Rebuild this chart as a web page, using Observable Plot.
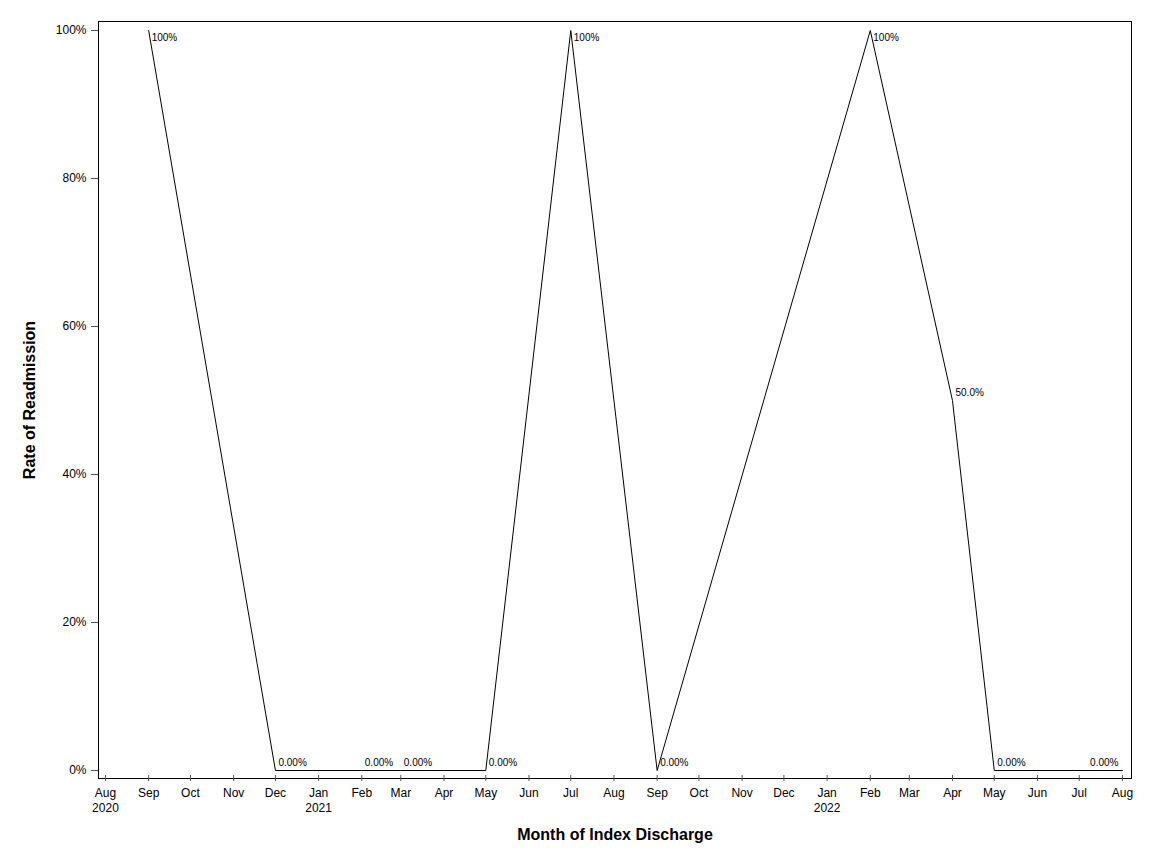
<!DOCTYPE html>
<html>
<head>
<meta charset="utf-8">
<script src="https://cdn.jsdelivr.net/npm/d3@7"></script>
<script src="https://cdn.jsdelivr.net/npm/@observablehq/plot@0.6"></script>
<style>
  html, body { margin: 0; padding: 0; background: #fff; }
  svg { display: block; }
</style>
</head>
<body>
<div id="chart"></div>
<script>
// Data
const months = ["2020-09-01","2020-12-01","2021-02-01","2021-03-01","2021-05-01","2021-07-01","2021-09-01","2022-02-01","2022-04-01","2022-05-01","2022-08-01"];
const rates  = [1.0, 0, 0, 0, 0, 1.0, 0, 1.0, 0.5, 0, 0];
const pointLabels = ["100%","0.00%","0.00%","0.00%","0.00%","100%","0.00%","100%","50.0%","0.00%","0.00%"];
const yTicks = [0, 0.2, 0.4, 0.6, 0.8, 1.0];
const xStart = "2020-08-01";
const xEnd = "2022-08-01";
const monthNames = ["Jan","Feb","Mar","Apr","May","Jun","Jul","Aug","Sep","Oct","Nov","Dec"];

const data = months.map((m, i) => ({date: new Date(m + "T00:00:00Z"), rate: rates[i], label: pointLabels[i], last: i === months.length - 1}));
const xTicks = d3.utcMonths(new Date(xStart + "T00:00:00Z"), d3.utcDay.offset(new Date(xEnd + "T00:00:00Z"), 1));
const fmtX = (d, i) => {
  const m = monthNames[d.getUTCMonth()];
  return (i === 0 || d.getUTCMonth() === 0) ? m + "\n" + d.getUTCFullYear() : m;
};

const d0 = d3.utcDay.offset(new Date(xStart + "T00:00:00Z"), -5);
const d1 = new Date(new Date(xEnd + "T00:00:00Z").getTime() + 6.5 * 864e5);

const topPts = data.filter(d => !d.last && d.rate >= 1);
const midPts = data.filter(d => !d.last && d.rate < 1);
const lastPts = data.filter(d => d.last);

const chart = Plot.plot({
  width: 1152,
  height: 864,
  marginLeft: 98,
  marginRight: 21,
  marginTop: 21,
  marginBottom: 86,
  style: {fontFamily: "'Liberation Sans', Arial, sans-serif", fontSize: "12px", color: "#000", background: "#fff"},
  x: {type: "utc", domain: [d0, d1]},
  y: {domain: [-8/740, 1 + 9/740]},
  marks: [
    Plot.frame({stroke: "#000", strokeWidth: 1}),
    Plot.axisY(yTicks, {tickSize: 7, tickPadding: 5, tickFormat: d3.format(".0%"), stroke: "#555", label: "Rate of Readmission", labelAnchor: "center", labelArrow: "none", labelOffset: 75}),
    Plot.axisX(xTicks, {tickSize: 6, dy: -3, tickFormat: () => "", stroke: "#555", label: null}),
    Plot.axisX(xTicks, {tickSize: 0, tickPadding: 7, tickFormat: fmtX, lineHeight: 1.3, label: "Month of Index Discharge", labelAnchor: "center", labelArrow: "none", labelOffset: 61}),
    Plot.line(data, {x: "date", y: "rate", stroke: "#000", strokeWidth: 1}),
    Plot.text(topPts, {x: "date", y: "rate", text: "label", textAnchor: "start", dx: 3, dy: 7, fontSize: 10, fill: "#000"}),
    Plot.text(midPts, {x: "date", y: "rate", text: "label", textAnchor: "start", dx: 3, dy: -8, fontSize: 10, fill: "#000"}),
    Plot.text(lastPts, {x: "date", y: "rate", text: "label", textAnchor: "end", dx: -4, dy: -8, fontSize: 10, fill: "#000"})
  ]
});

d3.select(chart).selectAll("g[aria-label='x-axis label'] text, g[aria-label='y-axis label'] text")
  .style("font-weight", "bold").style("font-size", "16px");

document.getElementById("chart").appendChild(chart);
</script>
</body>
</html>
